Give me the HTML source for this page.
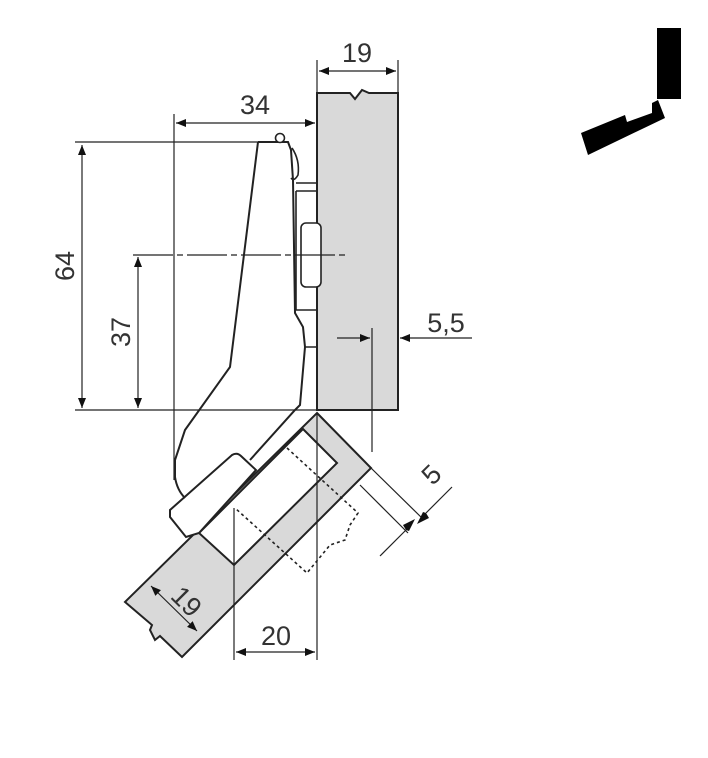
<!DOCTYPE html>
<html><head><meta charset="utf-8"><style>html,body{margin:0;padding:0;background:#fff}svg{display:block}</style></head>
<body>
<svg width="708" height="758" viewBox="0 0 708 758" xmlns="http://www.w3.org/2000/svg">
<defs>
<marker id="a" viewBox="0 0 10 10" refX="10" refY="5" markerWidth="10" markerHeight="10" orient="auto-start-reverse" markerUnits="userSpaceOnUse"><path d="M0,1 L10,5 L0,9 z" fill="#111"/></marker>
</defs>
<g font-family="Liberation Sans, sans-serif" font-size="27" fill="#333">
<path d="M317,93 L350,93 L355,99 L362,90 L369,93 L398,93 L398,410 L317,410 Z" fill="#d9d9d9" stroke="#222" stroke-width="2"/>
<path d="M317,413 L371,468 L182,657 L160,636 L155,640 L150,630 L152,625 L125,602 Z" fill="#d9d9d9" stroke="#222" stroke-width="2"/>
<path d="M303,429 L337,463 L234,565 L199,533 Z" fill="#fff" stroke="#222" stroke-width="2"/>
<path d="M287,448 L358,513 L350,525 L345,540 L330,545 L307,573 L235,508" fill="none" stroke="#222" stroke-width="1.6" stroke-dasharray="3,3"/>
<path d="M170,517 L170,510 L232,455 Q237,452 241,456 L256,470 L199,533 L186,537 Z" fill="#fff" stroke="#222" stroke-width="2"/>
<path d="M258,142 L288,142 L291,150 L293,180 L295,313 L303,327 L305,347 L300,405 L295,410 L250,460" fill="none" stroke="#222" stroke-width="2"/>
<path d="M258,142 L230,367 L185,430 L175,460 L175,477 Q177,490 185,498" fill="none" stroke="#222" stroke-width="2"/>
<circle cx="280" cy="138" r="4.5" fill="#fff" stroke="#222" stroke-width="1.6"/>
<path d="M292,148 Q300,160 298,175 Q294,182 291,178" fill="none" stroke="#222" stroke-width="1.6"/>
<path d="M296,183 L317,183 M296,191 L317,191 M296,191 L296,310 L317,310 M305,347 L317,347" fill="none" stroke="#222" stroke-width="1.6"/>
<rect x="301" y="223" width="20" height="64" rx="5" fill="#fff" stroke="#222" stroke-width="1.6"/>
<g stroke="#222" stroke-width="1.2" fill="none">
<line x1="317" y1="60" x2="317" y2="93"/><line x1="398" y1="60" x2="398" y2="93"/>
<line x1="319" y1="71" x2="396" y2="71" marker-start="url(#a)" marker-end="url(#a)"/>
<line x1="174" y1="114" x2="174" y2="480"/>
<line x1="176" y1="123" x2="315" y2="123" marker-start="url(#a)" marker-end="url(#a)"/>
<line x1="75" y1="142" x2="278" y2="142"/>
<line x1="75" y1="410" x2="317" y2="410"/>
<line x1="82" y1="145" x2="82" y2="408" marker-start="url(#a)" marker-end="url(#a)"/>
<line x1="138" y1="257" x2="138" y2="408" marker-start="url(#a)" marker-end="url(#a)"/>
<line x1="133" y1="255" x2="345" y2="255" stroke-dasharray="40,4,6,4"/>
<line x1="337" y1="338" x2="370" y2="338" marker-end="url(#a)"/>
<line x1="472" y1="338" x2="400" y2="338" marker-end="url(#a)"/>
<line x1="372" y1="328" x2="372" y2="452"/>
<line x1="317" y1="413" x2="317" y2="660"/>
<line x1="234" y1="508" x2="234" y2="660"/>
<line x1="236" y1="652" x2="315" y2="652" marker-start="url(#a)" marker-end="url(#a)"/>
<line x1="371" y1="468" x2="424" y2="520"/>
<line x1="360" y1="485" x2="408" y2="533"/>
<line x1="452" y1="487" x2="426" y2="513" />
<line x1="380" y1="556" x2="406" y2="530" />
<path d="M426,513 l-3,-1 l-6,12 l12,-6z M406,530 l3,1 l6,-12 l-12,6z" fill="#111" stroke="none"/>
<line x1="151" y1="586" x2="197" y2="631" marker-start="url(#a)" marker-end="url(#a)"/>
</g>
<text x="357" y="62" text-anchor="middle">19</text>
<text x="255" y="114" text-anchor="middle">34</text>
<text x="446" y="332" text-anchor="middle">5,5</text>
<text x="276" y="645" text-anchor="middle">20</text>
<text transform="translate(74,266) rotate(-90)" text-anchor="middle">64</text>
<text transform="translate(130,332) rotate(-90)" text-anchor="middle">37</text>
<text transform="translate(438,481) rotate(-45)" text-anchor="middle">5</text>
<text transform="translate(180,608) rotate(45)" text-anchor="middle">19</text>
<rect x="657" y="28" width="24" height="71" fill="#000"/>
<path d="M581,133 L625,115 L627,122 L652,113 L652,103 L658,100 L665,118 L588,155 Z" fill="#000"/>
</g>
</svg>
</body></html>
